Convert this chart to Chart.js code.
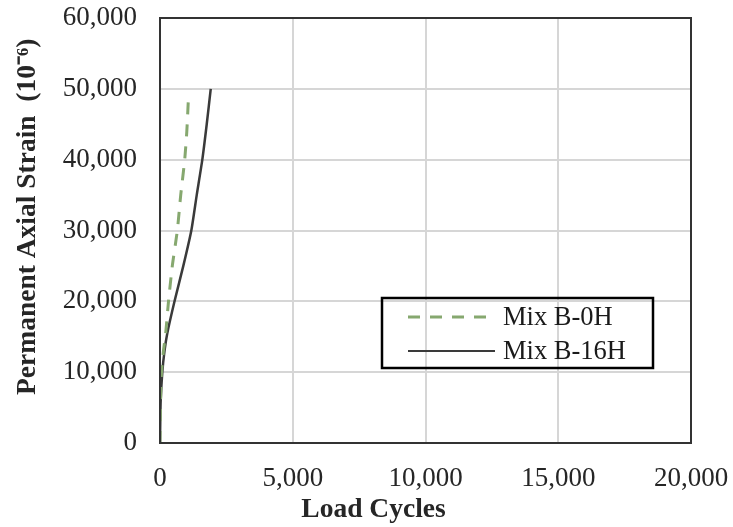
<!DOCTYPE html>
<html>
<head>
<meta charset="utf-8">
<script src="https://cdn.jsdelivr.net/npm/chart.js@4.4.0/dist/chart.umd.min.js"></script>
<style>
  body { margin: 0; background: #fff; }
  #wrap { width: 733px; height: 527px; }
</style>
</head>
<body>
<div id="wrap"><canvas id="myChart" width="733" height="527"></canvas></div>
<script>
'use strict'

// load cycles (x) and permanent axial strain (y)
const cycles0H = [0, 8, 20, 57, 130, 215, 320, 464, 652, 780, 931, 1010, 1067];
const strain0H = [0, 3000, 6000, 10000, 13000, 15500, 20000, 25000, 30000, 35000, 40000, 44000, 48400];

const cycles16H = [0, 10, 26, 87, 170, 275, 547, 878, 1180, 1383, 1594, 1760, 1911];
const strain16H = [0, 3000, 6000, 10000, 13000, 15500, 20000, 25000, 30000, 35000, 40000, 45000, 50000];

const seriesNames = ['Mix B-0H', 'Mix B-16H'];
const xTicks = [0, 5000, 10000, 15000, 20000];
const yTicks = [0, 10000, 20000, 30000, 40000, 50000, 60000];
const xTitle = 'Load Cycles';
const yTitle = 'Permanent Axial Strain  (10\u207B\u2076)';

function toPoints(xs, ys) {
  let pts = [];
  for (let i = 0; i < xs.length; i++) {
    pts.push({ x: xs[i], y: ys[i] });
  }
  return pts;
}

const serif = "'Liberation Serif', 'Times New Roman', serif";

// box around the plot, legend inside the plot, x title centred on the page
const framePlugin = {
  id: 'frame',
  afterDraw(chart) {
    const ctx = chart.ctx;
    const a = chart.chartArea;
    ctx.save();
    ctx.strokeStyle = '#333';
    ctx.lineWidth = 2;
    ctx.strokeRect(a.left, a.top, a.right - a.left, a.bottom - a.top);

    // legend box
    const bx = a.left + 222, by = a.top + 280, bw = 271, bh = 70;
    ctx.lineWidth = 2.5;
    ctx.strokeStyle = '#000';
    ctx.strokeRect(bx, by, bw, bh);

    ctx.font = '26.5px ' + serif;
    ctx.fillStyle = '#1a1a1a';
    ctx.textBaseline = 'middle';
    const rows = [by + 19, by + 53];
    chart.data.datasets.forEach((ds, i) => {
      ctx.beginPath();
      ctx.strokeStyle = ds.borderColor;
      ctx.lineWidth = i === 0 ? 3 : 2;
      ctx.setLineDash(ds.borderDash || []);
      ctx.moveTo(bx + 26, rows[i]);
      ctx.lineTo(bx + 113, rows[i]);
      ctx.stroke();
      ctx.setLineDash([]);
      ctx.fillText(ds.label, bx + 121, rows[i] + 1);
    });

    // x axis title (sits left of the plot centre in the original)
    ctx.font = 'bold 27.5px ' + serif;
    ctx.fillStyle = '#262626';
    ctx.textAlign = 'center';
    ctx.textBaseline = 'alphabetic';
    ctx.fillText(xTitle, chart.width / 2 + 7, 517);
    ctx.restore();
  }
};

let ctx = document.getElementById('myChart').getContext('2d');

new Chart(ctx, {
  type: 'scatter',
  data: {
    datasets: [
      {
        label: seriesNames[0],
        data: toPoints(cycles0H, strain0H),
        showLine: true,
        borderColor: '#86a86f',
        borderWidth: 3,
        borderDash: [12, 10],
        pointRadius: 0,
        tension: 0.2
      },
      {
        label: seriesNames[1],
        data: toPoints(cycles16H, strain16H),
        showLine: true,
        borderColor: '#3a3a3a',
        borderWidth: 2.5,
        pointRadius: 0,
        tension: 0.2
      }
    ]
  },
  options: {
    responsive: false,
    animation: false,
    devicePixelRatio: 1,
    layout: { padding: { top: 18, right: 42, left: 0, bottom: 0 } },
    plugins: {
      legend: { display: false },
      tooltip: { enabled: false }
    },
    scales: {
      x: {
        type: 'linear',
        min: 0,
        max: 20000,
        afterBuildTicks: s => { s.ticks = xTicks.map(v => ({ value: v })); },
        afterFit: s => {
          s.height = 84;
          s.paddingLeft = 0;
          s.paddingRight = 0;
        },
        grid: { color: '#d6d6d6', lineWidth: 2, drawTicks: false },
        border: { display: false },
        ticks: {
          padding: 20,
          color: '#262626',
          font: { family: serif, size: 27 },
          maxRotation: 0,
          callback: v => v.toLocaleString('en-US')
        }
      },
      y: {
        type: 'linear',
        min: 0,
        max: 60000,
        afterBuildTicks: s => { s.ticks = yTicks.map(v => ({ value: v })); },
        afterFit: s => {
          s.width = 160;
          s.paddingTop = 0;
          s.paddingBottom = 0;
        },
        grid: { color: '#d6d6d6', lineWidth: 2, drawTicks: false },
        border: { display: false },
        ticks: {
          padding: 23,
          color: '#262626',
          font: { family: serif, size: 27 },
          callback: v => v.toLocaleString('en-US')
        },
        title: {
          display: true,
          text: '    ' + yTitle,
          color: '#262626',
          padding: { top: 14, bottom: 0 },
          font: { family: serif, size: 27.5, weight: 'bold', lineHeight: 1 }
        }
      }
    }
  },
  plugins: [framePlugin]
});
</script>
</body>
</html>
